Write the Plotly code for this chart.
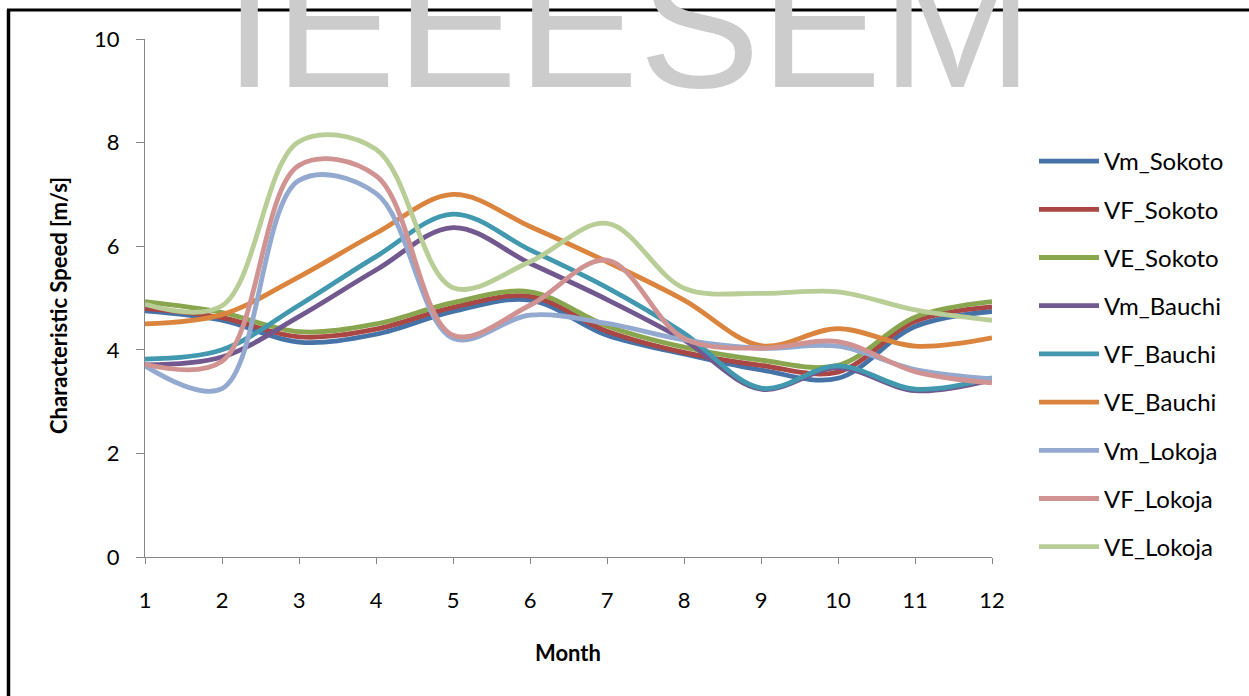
import plotly.graph_objects as go

# Monthly characteristic wind speeds [m/s]
months = [1, 2, 3, 4, 5, 6, 7, 8, 9, 10, 11, 12]

vm_sokoto = [4.75, 4.57, 4.15, 4.30, 4.74, 4.96, 4.28, 3.92, 3.61, 3.45, 4.45, 4.74]
vf_sokoto = [4.80, 4.62, 4.25, 4.40, 4.82, 5.03, 4.36, 3.95, 3.70, 3.57, 4.55, 4.83]
ve_sokoto = [4.93, 4.72, 4.35, 4.50, 4.91, 5.12, 4.46, 4.05, 3.80, 3.70, 4.63, 4.93]

vm_bauchi = [3.71, 3.86, 4.64, 5.54, 6.36, 5.67, 4.97, 4.19, 3.24, 3.65, 3.21, 3.42]
vf_bauchi = [3.82, 4.00, 4.86, 5.80, 6.62, 5.93, 5.20, 4.32, 3.26, 3.69, 3.24, 3.46]
ve_bauchi = [4.50, 4.68, 5.41, 6.25, 7.00, 6.38, 5.70, 4.96, 4.08, 4.41, 4.07, 4.23]

vm_lokoja = [3.69, 3.25, 7.27, 7.02, 4.22, 4.67, 4.51, 4.19, 4.03, 4.07, 3.62, 3.44]
vf_lokoja = [3.72, 3.78, 7.56, 7.36, 4.28, 4.86, 5.73, 4.22, 4.03, 4.16, 3.58, 3.36]
ve_lokoja = [4.88, 4.85, 8.02, 7.87, 5.20, 5.70, 6.44, 5.19, 5.09, 5.12, 4.77, 4.57]

series = [
    ("Vm_Sokoto", vm_sokoto, "#4572A7"),
    ("VF_Sokoto", vf_sokoto, "#AA4643"),
    ("VE_Sokoto", ve_sokoto, "#89A54E"),
    ("Vm_Bauchi", vm_bauchi, "#71588F"),
    ("VF_Bauchi", vf_bauchi, "#4198AF"),
    ("VE_Bauchi", ve_bauchi, "#DB843D"),
    ("Vm_Lokoja", vm_lokoja, "#93A9CF"),
    ("VF_Lokoja", vf_lokoja, "#D19392"),
    ("VE_Lokoja", ve_lokoja, "#B9CD96"),
]

FONT = "Lato, 'Open Sans', sans-serif"
AXIS_GREY = "#868686"

fig = go.Figure()
for name, values, color in series:
    fig.add_trace(go.Scatter(
        x=months, y=values, name=name, mode="lines",
        legendgroup=name,
        line=dict(color=color, width=4.8, shape="spline", smoothing=1.0),
    ))

W, H = 1249, 696
ML, MR, MT, MB = 145, 257, 39, 139
PW, PH = W - ML - MR, H - MT - MB


def px_x(px):
    return (px - ML) / PW


def px_y(py):
    return (H - MB - py) / PH


fig.update_layout(
    width=W, height=H,
    margin=dict(l=ML, r=MR, t=MT, b=MB, pad=0),
    paper_bgcolor="white", plot_bgcolor="white",
    font=dict(family=FONT, size=22, color="black"),
    showlegend=True,
    legend=dict(
        x=px_x(1034), y=px_y(139), xanchor="left", yanchor="top",
        xref="paper", yref="paper",
        font=dict(family=FONT, size=24, color="black"),
        tracegroupgap=14, itemwidth=60,
        bgcolor="rgba(0,0,0,0)",
    ),
    xaxis=dict(
        range=[1, 12], tickvals=months, ticks="outside", ticklen=6,
        tickcolor=AXIS_GREY, showline=True, linecolor=AXIS_GREY, linewidth=1,
        showgrid=False, zeroline=False, ticklabelstandoff=18,
        tickfont=dict(family=FONT, size=22, color="black"),
    ),
    yaxis=dict(
        range=[0, 10], tick0=0, dtick=2, ticks="outside", ticklen=8,
        tickcolor=AXIS_GREY, showline=True, linecolor=AXIS_GREY, linewidth=1,
        showgrid=False, zeroline=False, ticklabelstandoff=12,
        tickfont=dict(family=FONT, size=22, color="black"),
    ),
    annotations=[
        dict(text="IEEESEM", xref="paper", yref="paper",
             x=px_x(222), y=px_y(128), xanchor="left", yanchor="bottom",
             showarrow=False,
             font=dict(family="Liberation Sans, Arial, sans-serif", size=182, color="#cccccc")),
        dict(text="<b>Month</b>", xref="paper", yref="paper",
             x=px_x(568), y=px_y(652), xanchor="center", yanchor="middle",
             showarrow=False, font=dict(family=FONT, size=22, color="black")),
        dict(text="<b>Characteristic Speed [m/s]</b>", xref="paper", yref="paper",
             x=px_x(58), y=px_y(306), xanchor="center", yanchor="middle",
             textangle=-90, showarrow=False,
             font=dict(family=FONT, size=22, color="black")),
    ],
    shapes=[
        dict(type="line", xref="paper", yref="paper",
             x0=px_x(8.5), x1=px_x(8.5), y0=px_y(10), y1=px_y(720),
             line=dict(color="black", width=3.5)),
        dict(type="line", xref="paper", yref="paper",
             x0=px_x(7), x1=px_x(1270), y0=px_y(10), y1=px_y(10),
             line=dict(color="black", width=3)),
    ],
)

fig.write_html("out.html")
